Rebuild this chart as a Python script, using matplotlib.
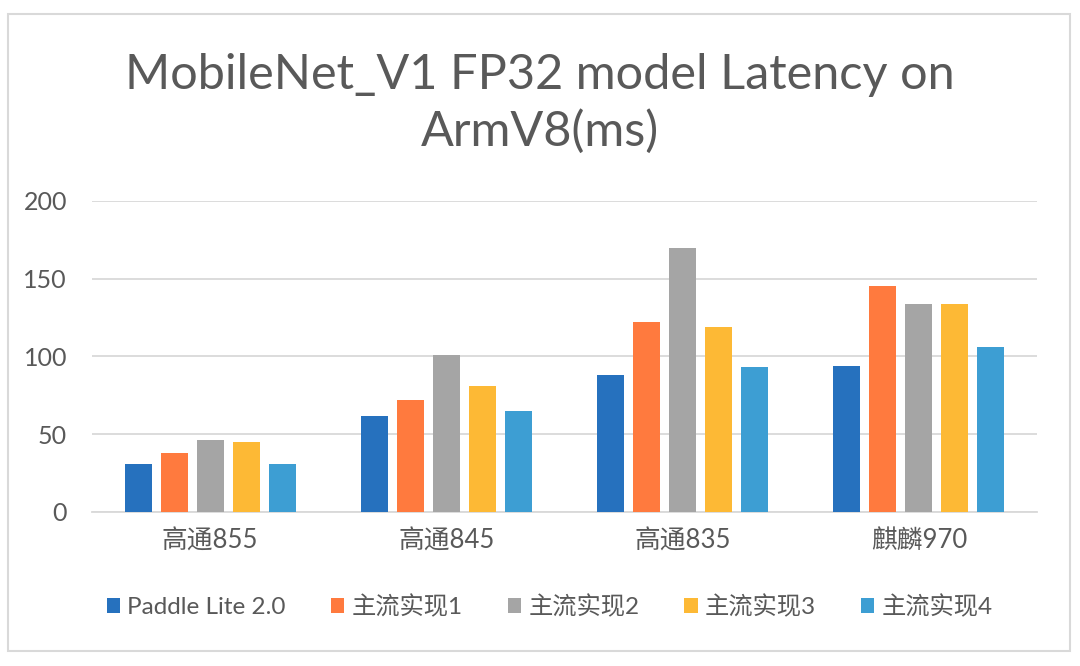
import numpy as np
import matplotlib.pyplot as plt
from matplotlib.patches import Rectangle

plt.rcParams['font.family'] = ['Lato', 'Noto Sans CJK SC', 'DejaVu Sans']

categories = ['高通855', '高通845', '高通835', '麒麟970']
series = ['Paddle Lite 2.0', '主流实现1', '主流实现2', '主流实现3', '主流实现4']
paddle = [31, 61.5, 88, 94]
impl1 = [38, 72, 122, 145.5]
impl2 = [46, 101, 170, 134]
impl3 = [45, 81, 119, 134]
impl4 = [31, 65, 93, 106]
values = [paddle, impl1, impl2, impl3, impl4]
colors = ['#2671BE', '#FF7A3E', '#A5A5A5', '#FDB935', '#3D9ED3']

text_color = '#595959'

fig = plt.figure(figsize=(10.8, 6.66), dpi=100)
ax = fig.add_axes([0.0852, 0.2317, 0.875, 0.4665])

x = np.arange(len(categories))
pitch = 0.1525
width = 0.1144
for i, (vals, c, name) in enumerate(zip(values, colors, series)):
    ax.bar(x + (i - 2) * pitch, vals, width, color=c, label=name, zorder=3)

ax.set_xlim(-0.5, 3.5)
ax.set_ylim(0, 200)
ax.set_yticks([0, 50, 100, 150, 200])
ax.grid(axis='y', color='#d9d9d9', linewidth=1.3, zorder=0)
for s in ['top', 'right', 'left']:
    ax.spines[s].set_visible(False)
ax.spines['bottom'].set_color('#d9d9d9')
ax.spines['bottom'].set_linewidth(1.3)
ax.set_xticks(x)
ax.set_xticklabels(categories)
ax.tick_params(axis='y', length=0, pad=18, labelsize=18, labelcolor=text_color)
ax.tick_params(axis='x', length=0, pad=12, labelsize=18.5, labelcolor=text_color)

fig.text(0.5, 0.845, 'MobileNet_V1 FP32 model Latency on\nArmV8(ms)', ha='center', va='center',
         fontsize=35, color=text_color, linespacing=1.32)

leg = fig.legend(loc='center', bbox_to_anchor=(0.509, 0.09), ncol=5, frameon=False,
                 fontsize=17.5, handlelength=0.55, handleheight=0.55, handletextpad=0.3,
                 columnspacing=1.85)
for t in leg.get_texts():
    t.set_color(text_color)

fig.patches.append(Rectangle((8 / 1080, 15 / 666), 1062 / 1080, 637 / 666, transform=fig.transFigure,
                             fill=False, edgecolor='#d9d9d9', linewidth=1.5))

fig.savefig('out.png', dpi=100, facecolor='white')
